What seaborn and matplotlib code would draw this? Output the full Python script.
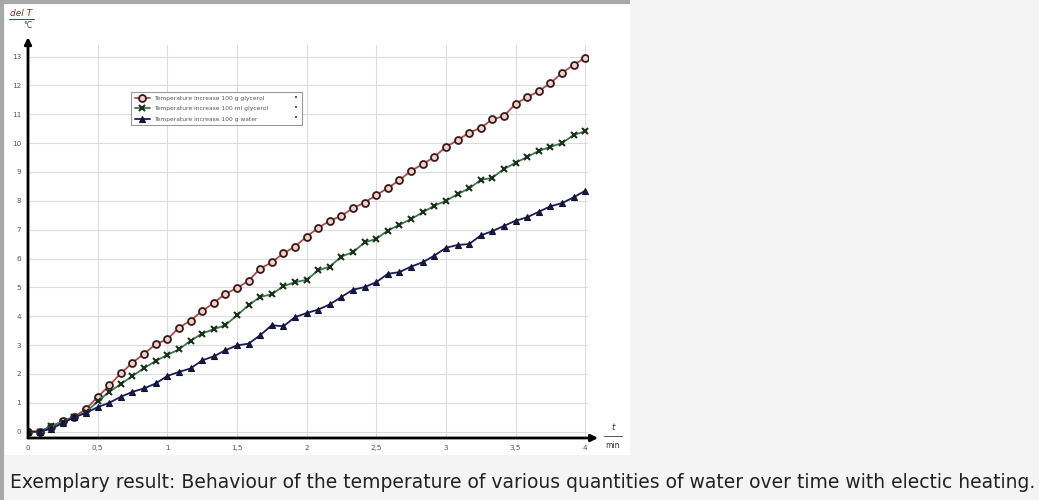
import numpy as np
import pandas as pd
import seaborn as sns
import matplotlib.pyplot as plt
from matplotlib.patches import Rectangle
from matplotlib.lines import Line2D

# # Data (readings every 5 s, time in seconds)

time_s = [0, 5, 10, 15, 20, 25, 30, 35, 40, 45, 50, 55, 60, 65, 70, 75, 80,
          85, 90, 95, 100, 105, 110, 115, 120, 125, 130, 135, 140, 145, 150,
          155, 160, 165, 170, 175, 180, 185, 190, 195, 200, 205, 210, 215,
          220, 225, 230, 235, 240]

glycerol_100g = [0.0, 0.0, 0.15, 0.38, 0.52, 0.79, 1.2, 1.6, 2.02, 2.39, 2.7,
                 3.03, 3.2, 3.6, 3.85, 4.18, 4.46, 4.78, 4.97, 5.23, 5.65,
                 5.87, 6.18, 6.41, 6.76, 7.06, 7.31, 7.48, 7.75, 7.94, 8.2,
                 8.44, 8.72, 9.04, 9.27, 9.52, 9.87, 10.1, 10.36, 10.53, 10.82,
                 10.94, 11.36, 11.59, 11.8, 12.08, 12.43, 12.71, 12.96]

glycerol_100ml = [0.0, 0.0, 0.2, 0.35, 0.5, 0.68, 1.05, 1.38, 1.65, 1.93, 2.2,
                  2.45, 2.66, 2.85, 3.15, 3.4, 3.55, 3.69, 4.03, 4.38, 4.67,
                  4.76, 5.04, 5.18, 5.26, 5.59, 5.72, 6.07, 6.22, 6.56, 6.68,
                  6.97, 7.17, 7.37, 7.6, 7.83, 8.0, 8.23, 8.43, 8.72, 8.8,
                  9.1, 9.32, 9.52, 9.73, 9.87, 10.0, 10.28, 10.41]

water_100g = [0.0, 0.0, 0.1, 0.3, 0.5, 0.65, 0.85, 1.0, 1.21, 1.38, 1.5,
              1.67, 1.93, 2.07, 2.19, 2.47, 2.61, 2.82, 2.99, 3.05, 3.34,
              3.69, 3.65, 3.97, 4.11, 4.23, 4.41, 4.67, 4.92, 5.01, 5.18,
              5.47, 5.53, 5.72, 5.87, 6.1, 6.37, 6.47, 6.5, 6.8, 6.95,
              7.13, 7.31, 7.43, 7.62, 7.81, 7.92, 8.12, 8.35]

labels = ["Temperature increase 100 g glycerol",
          "Temperature increase 100 ml glycerol",
          "Temperature increase 100 g water"]

x_ticks = [0, 0.5, 1, 1.5, 2, 2.5, 3, 3.5, 4]
x_ticklabels = ["0", "0,5", "1", "1,5", "2", "2,5", "3", "3,5", "4"]
y_ticks = list(range(0, 14))

caption = ("Exemplary result: Behaviour of the temperature of various "
           "quantities of water over time with electic heating.")

df = pd.DataFrame({"t": np.array(time_s) / 60.0,
                   labels[0]: glycerol_100g,
                   labels[1]: glycerol_100ml,
                   labels[2]: water_100g})

# # Figure

sns.set_style("white")
plt.rcParams['font.family'] = ['DejaVu Sans']

W, H = 1039, 500
fig = plt.figure(figsize=(W / 100, H / 100), dpi=100, facecolor="#f4f4f4")

# white picture area and grey frame
fig.patches.append(Rectangle((5 / W, 45 / H), 625 / W, 450 / H, transform=fig.transFigure,
                             facecolor="white", edgecolor="none", zorder=-2))
fig.patches.append(Rectangle((0, 0), 4 / W, 1, transform=fig.transFigure,
                             facecolor="#a8a8a8", edgecolor="none", zorder=-1))
fig.patches.append(Rectangle((0, 1 - 4 / H), 630 / W, 4 / H, transform=fig.transFigure,
                             facecolor="#a8a8a8", edgecolor="none", zorder=-1))

ax = fig.add_axes([28 / W, 62 / H, 560 / W, 393 / H])
ax.set_facecolor("none")

styles = [
    dict(color="#b04a4a", marker="o", markersize=5, markerfacecolor="#ecd2cc",
         markeredgecolor="#3a1818", markeredgewidth=1.3),
    dict(color="#3a7a4a", marker="x", markersize=5, markeredgecolor="#1c2e1c",
         markeredgewidth=1.5),
    dict(color="#1c1c5a", marker="^", markersize=5, markerfacecolor="#1a1a4a",
         markeredgecolor="#101030", markeredgewidth=0.8),
]

for lab, st in zip(labels, styles):
    sns.lineplot(x="t", y=lab, data=df, ax=ax, label=lab, linewidth=1.3, **st)

ax.set_xlim(0, 4.02)
ax.set_ylim(-0.22, 13.40)
ax.set_xticks(x_ticks)
ax.set_xticklabels(x_ticklabels)
ax.set_yticks(y_ticks)
ax.set_xlabel("")
ax.set_ylabel("")
ax.grid(True, color="#dcdcdc", linewidth=0.8)
ax.tick_params(axis="both", direction="inout", length=4, width=0.7, color="#888888",
               labelsize=5.2, labelcolor="#555555", pad=3)
for s in ["top", "right", "left", "bottom"]:
    ax.spines[s].set_visible(False)

# axis arrows
ax.annotate("", xy=(0, 1.02), xytext=(0, 0), xycoords="axes fraction",
            arrowprops=dict(arrowstyle="-|>", lw=2, color="black", mutation_scale=10,
                            shrinkA=0, shrinkB=0))
ax.annotate("", xy=(1.018, 0), xytext=(0, 0), xycoords="axes fraction",
            arrowprops=dict(arrowstyle="-|>", lw=2, color="black", mutation_scale=10,
                            shrinkA=0, shrinkB=0))

# axis captions
fig.text(10 / W, 1 - 13 / H, "del T", fontsize=6.5, style="italic", color="#8b2a2a",
         va="center", ha="left")
fig.lines.append(Line2D([9 / W, 34 / W], [1 - 19 / H, 1 - 19 / H], transform=fig.transFigure,
                        color="#8b2a2a", lw=0.7))
fig.text(28 / W, 1 - 25 / H, "°C", fontsize=5.5, color="#444444", va="center", ha="center")
fig.text(613 / W, 1 - 428 / H, "t", fontsize=6.5, style="italic", color="#333333",
         va="center", ha="center")
fig.lines.append(Line2D([604 / W, 622 / W], [1 - 436 / H, 1 - 436 / H], transform=fig.transFigure,
                        color="#555555", lw=0.7))
fig.text(613 / W, 1 - 445 / H, "min", fontsize=5.5, color="#333333", va="center", ha="center")

# legend
leg = ax.legend(loc="upper left", bbox_to_anchor=(128 / W, 1 - 124 / H, 177 / W, 35 / H),
                bbox_transform=fig.transFigure, mode="expand", fontsize=4.3, frameon=True,
                fancybox=False, edgecolor="#999999", framealpha=1, handlelength=2.6,
                borderpad=0.6, labelspacing=0.9, handletextpad=0.6)
leg.get_frame().set_linewidth(0.8)
for txt in leg.get_texts():
    txt.set_color("#555555")
for yy in [98, 108, 118]:
    fig.text(296 / W, 1 - yy / H, "•", fontsize=5, color="#333333", va="center", ha="center")

fig.text(10 / W, 1 - 482 / H, caption, fontsize=13.5, color="#222222", va="center", ha="left")

fig.savefig("out.png", dpi=100, facecolor=fig.get_facecolor())
